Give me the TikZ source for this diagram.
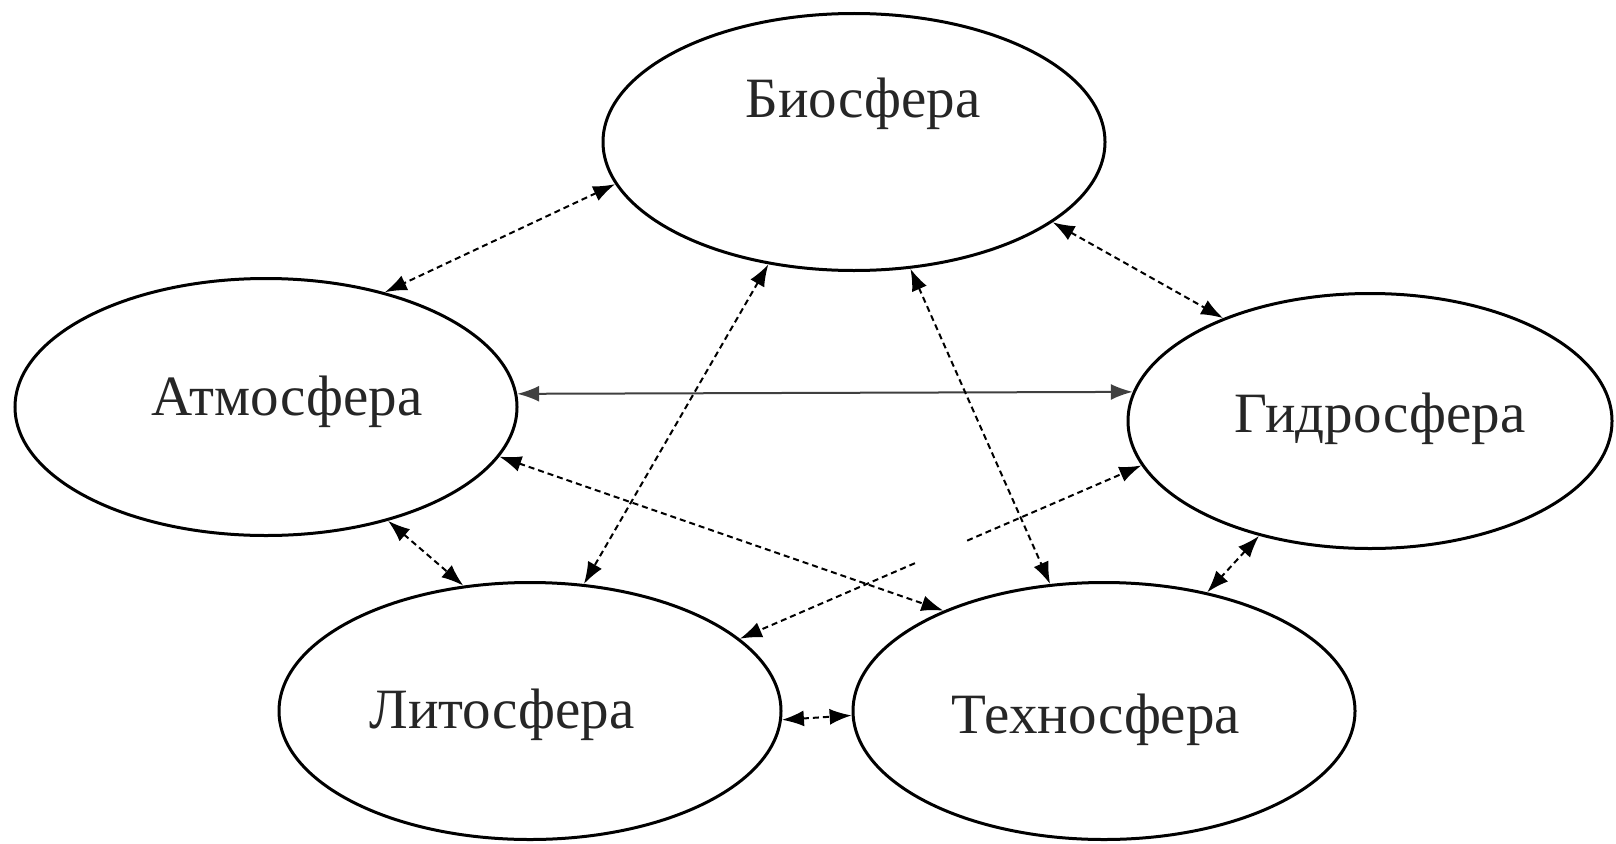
\documentclass[tikz,border=0pt]{standalone}
\usepackage{fontspec}
\setmainfont{Liberation Serif}
\usetikzlibrary{shapes.geometric,arrows.meta}
\begin{document}
\begin{tikzpicture}[x=1pt,y=-1pt,
  >={Latex[length=22pt,width=16pt]},
  sphere/.style={draw,ellipse,line width=3pt,minimum width=502pt,minimum height=257pt,inner sep=0pt},
  lbl/.style={anchor=base,font=\fontsize{57}{60}\selectfont,text=black!85},
  slink/.style={line width=2pt,draw=black!75},
  dlink/.style={line width=2pt,dash pattern=on 6pt off 4pt},
]
\useasboundingbox (0,0) rectangle (1616,843);
\fill[white] (0,0) rectangle (1616,843);

\node[sphere] (bio) at (854,142) {};
\node[sphere] (atm) at (266,407) {};
\node[sphere,minimum width=484pt,minimum height=255pt] (gid) at (1370,421) {};
\node[sphere] (lit) at (530,711) {};
\node[sphere] (tech) at (1104,711) {};

\node[lbl] (bioT) at (863,117) {Биосфера};
\node[lbl] (atmT) at (287,415) {Атмосфера};
\node[lbl] (gidT) at (1380,432) {Гидросфера};
\node[lbl] (litT) at (502,728) {Литосфера};
\node[lbl] (techT) at (1096,733) {Техносфера};

\draw[dlink,<->] (bio.190.5) -- (atm.44.5);
\draw[dlink,<->] (bio.338.4) -- (gid.145.9);
\draw[slink,<->] (atm.3.2) -- (gid.173.3);
\draw[dlink,<->] (bio.235.3) -- (lit.67.6);
\draw[dlink,<->] (bio.294.4) -- (tech.113.6);
\draw[dlink,<->] (atm.348.2) -- (tech.148.2);
\path (gid.191.8) -- coordinate[pos=0.434] (gl1) coordinate[pos=0.564] (gl2) (lit.19.7);
\draw[dlink,->] (gl1) -- (gid.191.8);
\draw[dlink,->] (gl2) -- (lit.19.7);
\draw[dlink,<->] (atm.317.9) -- (lit.118.5);
\draw[dlink,<->] (gid.226.7) -- (tech.49.0);
\draw[dlink,<->] (lit.358.5) -- (tech.181.5);
\end{tikzpicture}
\end{document}
